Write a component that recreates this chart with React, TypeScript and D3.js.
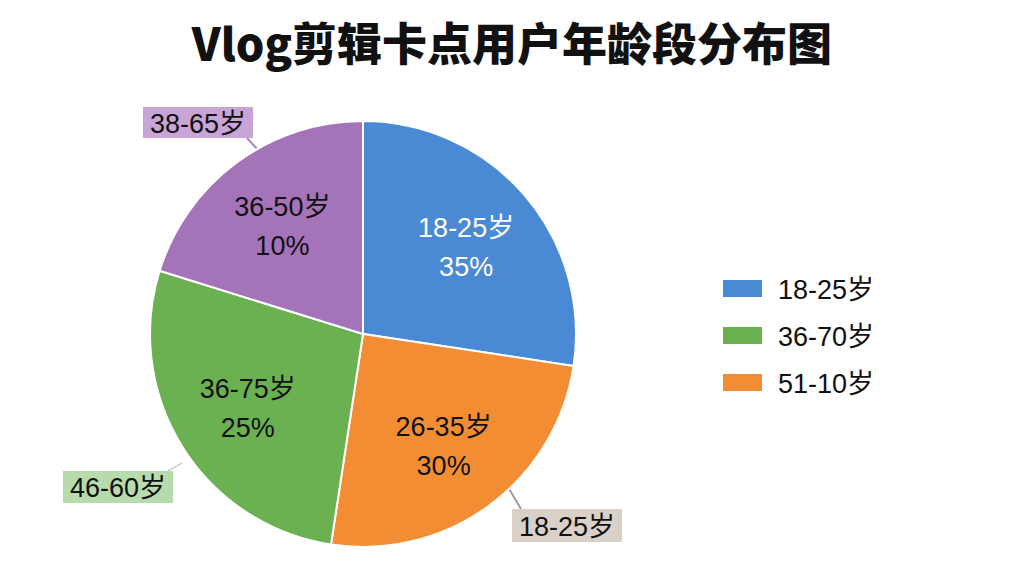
import React from "react";
import * as d3 from "d3";

const categories = ["18-25岁", "26-35岁", "36-75岁", "36-50岁"];
const shares = [27.4, 25.0, 27.4, 20.2];
const percentLabels = ["35%", "30%", "25%", "10%"];
const sliceColors = ["#4a8ad5", "#f38d33", "#6bb152", "#a473b8"];
const labelColors = ["#ffffff", "#111111", "#111111", "#111111"];

const legendItems = ["18-25岁", "36-70岁", "51-10岁"];
const legendColors = ["#4a8ad5", "#6bb152", "#f38d33"];

const calloutTexts = ["38-65岁", "46-60岁", "18-25岁"];
const calloutFills = ["#c8a5d6", "#b7dbad", "#d9d1c8"];
const calloutLines = ["#a88ab5", "#c9d9c3", "#a59d95"];

const title = "Vlog剪辑卡点用户年龄段分布图";
const FONT = "'Liberation Sans', Arial, 'Noto Sans CJK SC', sans-serif";

export default function App() {
  const W = 1024, H = 576;
  const cx = 363, cy = 334, R = 213;
  const pie = d3.pie<number>().sort(null).value((d) => d);
  const arcs = pie(shares);
  const arc = d3.arc<d3.PieArcDatum<number>>().innerRadius(0).outerRadius(R);
  const labelArc = d3.arc<d3.PieArcDatum<number>>().innerRadius(136).outerRadius(136);

  const callouts = [
    { x: 143, y: 107, w: 110, h: 31, lx1: 247, ly1: 138, lx2: 259, ly2: 151 },
    { x: 63, y: 471, w: 110, h: 32, lx1: 168, ly1: 471, lx2: 182, ly2: 463 },
    { x: 512, y: 509, w: 110, h: 33, lx1: 521, ly1: 509, lx2: 508, ly2: 487 },
  ];

  return (
    <svg width={W} height={H} style={{ position: "absolute", left: 0, top: 0, background: "#ffffff" }}>
      <rect x={0} y={0} width={W} height={H} fill="#ffffff" />
      <text x={512} y={61} textAnchor="middle" fontFamily="'Noto Sans CJK SC', sans-serif" fontWeight={900} fontSize={45} fill="#111">
        {title}
      </text>
      {callouts.map((c, i) => (
        <line key={"l" + i} x1={c.lx1} y1={c.ly1} x2={c.lx2} y2={c.ly2} stroke={calloutLines[i]} strokeWidth={2} />
      ))}
      <g transform={`translate(${cx},${cy})`}>
        {arcs.map((a, i) => (
          <path key={i} d={arc(a) || ""} fill={sliceColors[i]} stroke="#ffffff" strokeWidth={2} />
        ))}
        {arcs.map((a, i) => {
          const [x, y] = labelArc.centroid(a);
          return (
            <text key={"t" + i} x={x} y={y} textAnchor="middle" fontFamily={FONT} fontSize={27} fill={labelColors[i]}>
              <tspan x={x} dy={-8}>{categories[i]}</tspan>
              <tspan x={x} dy={39}>{percentLabels[i]}</tspan>
            </text>
          );
        })}
      </g>
      {callouts.map((c, i) => (
        <g key={"c" + i}>
          <rect x={c.x} y={c.y} width={c.w} height={c.h} fill={calloutFills[i]} />
          <text x={c.x + c.w / 2} y={c.y + c.h / 2 + 10} textAnchor="middle" fontFamily={FONT} fontSize={27} fill="#111">
            {calloutTexts[i]}
          </text>
        </g>
      ))}
      {legendItems.map((t, i) => (
        <g key={"g" + i} transform={`translate(723,${280 + i * 47})`}>
          <rect x={0} y={0} width={39} height={17} fill={legendColors[i]} />
          <text x={55} y={19} fontFamily={FONT} fontSize={27} fill="#111">{t}</text>
        </g>
      ))}
    </svg>
  );
}
